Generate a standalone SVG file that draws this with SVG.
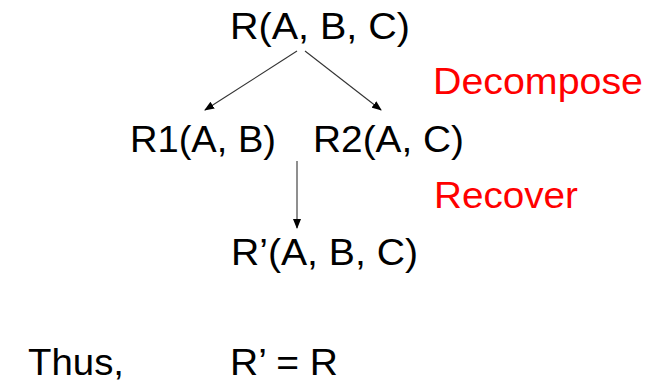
<svg xmlns="http://www.w3.org/2000/svg" width="669" height="384" viewBox="0 0 669 384">
  <style>
    .t { font-family: "Liberation Sans", Arial, sans-serif; font-size: 37.5px; fill: #000; }
    .red { fill: #ff0000; }
    .edge { stroke: #333; stroke-width: 1.1; fill: none; marker-end: url(#arrow); }
  </style>
  <defs>
    <marker id="arrow" markerWidth="10" markerHeight="8" refX="9" refY="4" orient="auto" markerUnits="userSpaceOnUse">
      <path d="M0,0 L10,4 L0,8 Z" fill="#000"/>
    </marker>
  </defs>
  <rect width="669" height="384" fill="#fff"/>

  <g id="edges">
    <line class="edge" x1="297" y1="51" x2="205" y2="110"/>
    <line class="edge" x1="305" y1="51" x2="381" y2="110"/>
    <line class="edge" x1="297" y1="161" x2="297" y2="228"/>
  </g>

  <g id="node-r"><text class="t" x="230" y="39" textLength="180" lengthAdjust="spacingAndGlyphs">R(A, B, C)</text></g>
  <g id="node-r1"><text class="t" x="130" y="152" textLength="146" lengthAdjust="spacingAndGlyphs">R1(A, B)</text></g>
  <g id="node-r2"><text class="t" x="313" y="152" textLength="151" lengthAdjust="spacingAndGlyphs">R2(A, C)</text></g>
  <g id="node-rprime"><text class="t" x="231" y="265" textLength="187" lengthAdjust="spacingAndGlyphs">R’(A, B, C)</text></g>

  <g id="label-decompose"><text class="t red" x="433" y="94" textLength="210" lengthAdjust="spacingAndGlyphs">Decompose</text></g>
  <g id="label-recover"><text class="t red" x="434" y="208" textLength="144" lengthAdjust="spacingAndGlyphs">Recover</text></g>

  <g id="conclusion">
    <text class="t" x="28" y="375" textLength="96" lengthAdjust="spacingAndGlyphs">Thus,</text>
    <text class="t" x="230" y="375" textLength="108" lengthAdjust="spacingAndGlyphs">R’ = R</text>
  </g>
</svg>
